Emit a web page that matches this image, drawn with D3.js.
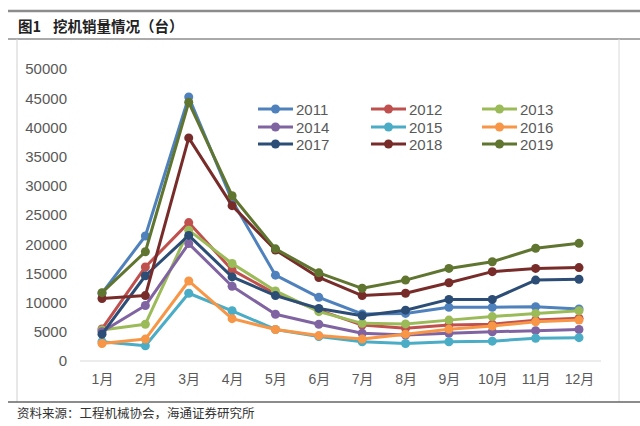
<!DOCTYPE html>
<html><head><meta charset="utf-8">
<script src="https://cdn.jsdelivr.net/npm/d3@7/dist/d3.min.js"></script>
<style>body{margin:0;background:#fff}svg{display:block}</style>
</head><body><svg id="c" width="640" height="426"></svg>
<script>
const months = ["1月","2月","3月","4月","5月","6月","7月","8月","9月","10月","11月","12月"];
const yTicks = [0,5000,10000,15000,20000,25000,30000,35000,40000,45000,50000];
const years = ["2011","2012","2013","2014","2015","2016","2017","2018","2019"];
const s2011 = [11600,21400,45200,27500,14700,10900,8050,8150,9200,9200,9300,8900];
const s2012 = [5500,16100,23700,15600,11500,8700,6150,5600,6150,6300,7000,7300];
const s2013 = [5300,6300,22400,16700,12000,8450,6450,6350,7000,7600,8150,8600];
const s2014 = [5000,9500,20100,12800,8000,6300,4750,4450,4750,5000,5200,5400];
const s2015 = [3300,2600,11600,8600,5400,4200,3300,3000,3300,3400,3900,4000];
const s2016 = [3000,3750,13700,7250,5400,4350,3750,4600,5450,6000,6700,7000];
const s2017 = [4600,14600,21500,14400,11200,9000,7750,8700,10550,10550,13850,14000];
const s2018 = [10700,11200,38200,26600,19000,14300,11200,11600,13400,15300,15850,16000];
const s2019 = [11700,18700,44300,28300,19200,15100,12450,13850,15850,17000,19300,20150];
const seriesData = [s2011,s2012,s2013,s2014,s2015,s2016,s2017,s2018,s2019];
const colors = ["#4F81BD","#C0504D","#9BBB59","#8064A2","#4BACC6","#F79646","#2C4D75","#772C2A","#5F7530"];

const svg = d3.select("#c");
const font = "Arial, 'Liberation Sans', 'Noto Sans CJK SC', sans-serif";

// frame
svg.append("line").attr("x1",8).attr("x2",640).attr("y1",11).attr("y2",11).attr("stroke","#8c8c8c").attr("stroke-width",2.5);
svg.append("text").attr("x",18).attr("y",32).attr("font-family","'Noto Sans CJK SC', sans-serif").attr("font-weight","bold").attr("font-size",14.5).attr("fill","#222").text("图1");
svg.append("text").attr("x",53).attr("y",32).attr("font-family","'Noto Sans CJK SC', sans-serif").attr("font-weight","bold").attr("font-size",14.5).attr("fill","#222").text("挖机销量情况（台）");
svg.append("line").attr("x1",8).attr("x2",640).attr("y1",39).attr("y2",39).attr("stroke","#555").attr("stroke-width",1);
svg.append("line").attr("x1",17).attr("x2",17).attr("y1",39).attr("y2",402).attr("stroke","#d0d0d0").attr("stroke-width",1);
svg.append("line").attr("x1",619).attr("x2",619).attr("y1",39).attr("y2",402).attr("stroke","#d9d9d9").attr("stroke-width",1);
svg.append("line").attr("x1",8).attr("x2",640).attr("y1",402).attr("y2",402).attr("stroke","#666").attr("stroke-width",1.5);
svg.append("text").attr("x",17).attr("y",418).attr("font-family","'Noto Sans CJK SC', sans-serif").attr("font-size",12.5).attr("fill","#333").text("资料来源：工程机械协会，海通证券研究所");

const x = d3.scalePoint().domain(months).range([102,579]);
const y = d3.scaleLinear().domain([0,50000]).range([361,69]);

// axes
const yAxis = svg.append("g").attr("transform","translate(72,0)").call(d3.axisLeft(y).tickValues(yTicks).tickSize(0).tickPadding(5).tickFormat(d3.format("d")));
yAxis.select(".domain").remove();
yAxis.selectAll("text").attr("font-family",font).attr("font-size",15).attr("fill","#595959");

svg.append("line").attr("x1",80).attr("x2",601).attr("y1",361).attr("y2",361).attr("stroke","#d9d9d9").attr("stroke-width",1.2);
const xAxis = svg.append("g").attr("transform","translate(0,361)").call(d3.axisBottom(x).tickSize(0).tickPadding(13));
xAxis.select(".domain").remove();
xAxis.selectAll("text").attr("font-family",font).attr("font-size",14).attr("fill","#595959");

// lines
const line = d3.line().x((d,i)=>x(months[i])).y(d=>y(d));
seriesData.forEach((s,k)=>{
  const g = svg.append("g");
  g.append("path").datum(s).attr("d",line).attr("fill","none").attr("stroke",colors[k]).attr("stroke-width",3).attr("stroke-linejoin","round");
  g.selectAll("circle").data(s).join("circle").attr("cx",(d,i)=>x(months[i])).attr("cy",d=>y(d)).attr("r",4.5).attr("fill",colors[k]);
});

// legend
const colX = [258,371,482];
const rowY = [109,127,144];
years.forEach((yr,k)=>{
  const cx = colX[k%3], cy = rowY[Math.floor(k/3)];
  svg.append("line").attr("x1",cx).attr("x2",cx+35).attr("y1",cy).attr("y2",cy).attr("stroke",colors[k]).attr("stroke-width",3);
  svg.append("circle").attr("cx",cx+17.5).attr("cy",cy).attr("r",4.5).attr("fill",colors[k]);
  svg.append("text").attr("x",cx+38).attr("y",cy+5.5).attr("font-family",font).attr("font-size",15).attr("fill","#595959").text(yr);
});
</script></body></html>
